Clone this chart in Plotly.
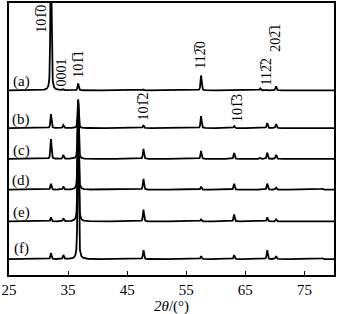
import numpy as np
import plotly.graph_objects as go

# Peak positions (2theta, degrees)
peak_pos = [32.1, 34.2, 36.7, 47.75, 57.5, 63.1, 67.5, 68.7, 70.2, 78.0]

# Sample labels and baseline offsets (arbitrary stacked units)
samples = ["(a)", "(b)", "(c)", "(d)", "(e)", "(f)"]
offsets = [186, 148, 117, 86, 54, 16]

# Peak intensities for each sample (same order as peak_pos)
heights_a = [160, 1, 7, 1, 15, 0.5, 2, 0.5, 4, 0]
heights_b = [14, 3, 29, 3, 12, 2, 0.5, 5, 4, 0.5]
heights_c = [20, 4, 58, 10, 8, 6, 1, 6, 4, 0.5]
heights_d = [6, 3, 89, 11, 3, 6, 0.5, 6, 2, 1]
heights_e = [4, 3, 121, 12, 2, 7, 0.5, 4, 2, 0.5]
heights_f = [6, 4, 159, 9, 3, 4, 0.5, 9, 3, 1]
all_heights = [heights_a, heights_b, heights_c, heights_d, heights_e, heights_f]

# Reflection labels: text, 2theta position, vertical position
refl_text = ["101\u03050", "0001", "101\u03051", "101\u03052", "112\u03050",
             "101\u03053", "112\u03052", "202\u03051"]
refl_x = [30.56, 33.8, 36.72, 47.7, 57.5, 63.7, 68.5, 70.2]
refl_y = [258, 204, 212, 170, 221, 168, 204, 239]

label_x = 27.1
label_y = [195, 157, 125, 95, 63, 27]

x_ticks = [25, 35, 45, 55, 65, 75]

tt = np.arange(25.0, 80.0001, 0.02)


def pattern(heights, base):
    y = np.full_like(tt, float(base))
    for p, h in zip(peak_pos, heights):
        w = 0.22
        lor = 1.0 / (1.0 + ((tt - p) / (w / 2)) ** 2)
        gau = np.exp(-4 * np.log(2) * ((tt - p) / w) ** 2)
        y += h * (0.5 * lor + 0.5 * gau)
    return y


fig = go.Figure()
for s, off, hs in zip(samples, offsets, all_heights):
    fig.add_trace(go.Scatter(x=tt, y=pattern(hs, off), mode="lines",
                             line=dict(color="black", width=1.8),
                             showlegend=False, hoverinfo="skip"))

font_serif = "Liberation Serif, Times New Roman, serif"
for t, xx, yy in zip(refl_text, refl_x, refl_y):
    fig.add_annotation(x=xx, y=yy, text=t, textangle=-90, showarrow=False,
                       font=dict(family=font_serif, size=14, color="black"))

for s, yy in zip(samples, label_y):
    fig.add_annotation(x=label_x, y=yy, text=s, showarrow=False,
                       font=dict(family=font_serif, size=15, color="black"))

fig.add_annotation(x=0.5, y=-0.117, xref="paper", yref="paper",
                   text="<i>2θ</i>/(°)", showarrow=False, yanchor="middle",
                   font=dict(family=font_serif, size=15, color="black"))

fig.update_layout(
    width=337, height=314,
    margin=dict(l=7, r=1, t=1, b=39),
    paper_bgcolor="white", plot_bgcolor="white",
    xaxis=dict(range=[25, 80], tickvals=x_ticks, ticks="inside", ticklen=4,
               tickwidth=1, tickcolor="black", showline=True, linecolor="black",
               linewidth=1.5, mirror=True, showgrid=False, zeroline=False,
               ticklabeloverflow="allow",
               tickfont=dict(family=font_serif, size=15, color="black")),
    yaxis=dict(range=[0, 274], showticklabels=False, ticks="", showline=True,
               linecolor="black", linewidth=1.5, mirror=True, showgrid=False,
               zeroline=False),
)

fig.write_html("out.html")
